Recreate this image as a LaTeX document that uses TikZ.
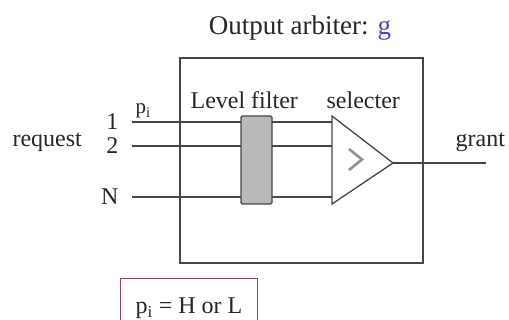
\documentclass[tikz,border=0pt]{standalone}
\usepackage{fontspec}
\setmainfont{Liberation Serif}
\usetikzlibrary{positioning}
\begin{document}
\begin{tikzpicture}[x=1pt,y=-1pt,line width=1.2pt,font=\fontsize{24}{28}\selectfont]
  \definecolor{wire}{RGB}{70,70,70}
  \definecolor{gblue}{RGB}{70,70,190}
  \definecolor{boxred}{RGB}{150,70,90}
  \tikzset{
    lbl/.style={inner sep=0pt, text=black!85},
    wireline/.style={draw=wire, line width=1.3pt}
  }
  \path[use as bounding box, clip] (0,0) rectangle (509,320);
  % titulo
  \node[lbl, anchor=base, font=\fontsize{27}{32}\selectfont] (title) at (300,35)
    {Output arbiter: \textcolor{gblue}{g}};
  % caixa do arbitro
  \node[draw=wire, line width=1.3pt, minimum width=243pt, minimum height=205pt, inner sep=0pt] (arb) at (301.5,160.5) {};
  % vertices do selecter
  \coordinate (selT) at (332,116);
  \coordinate (selB) at (332,204);
  \coordinate (selO) at (393,163);
  % entradas 1, 2 e N
  \foreach \n/\t/\y in {1/1/122, 2/2/146, N/N/197} {
    \coordinate (w\n) at (132,\y);
    \coordinate (s\n) at (332,\y);
    \node[lbl, left=13pt of w\n] (in\n) {\t};
    \draw[wireline] (w\n) -- (s\n);
  }
  \node[lbl, anchor=base west] (req) at (12,147) {request};
  \node[lbl, anchor=base west, font=\fontsize{21}{24}\selectfont] (pi) at (135,114) {p\textsubscript{i}};
  % level filter
  \node[draw=wire, line width=1.3pt, fill=gray!55, rounded corners=1.5pt, minimum width=31pt,
        minimum height=88pt, inner sep=0pt] (filt) at (256.5,160) {};
  \node[lbl, anchor=base west] (filtlbl) at (190,109) {Level filter};
  % selecter
  \draw[wireline, fill=white, line join=miter] (selT) -- (selO) -- (selB) -- cycle;
  \draw[gray!85, line width=2.6pt] (349,149) -- (362,159.5) -- (349,170);
  \node[lbl, anchor=base west] (sellbl) at (326,109) {selecter};
  % saida
  \coordinate (gout) at (486,163);
  \draw[wireline] (selO) -- (gout);
  \node[lbl, anchor=base west] (grant) at (455,147) {grant};
  % nota: p_i = H ou L
  \node[draw=boxred, line width=1pt, anchor=north west, inner ysep=0pt, inner xsep=10pt,
        text height=35pt, text depth=12pt, minimum width=137pt, align=left, text=black!85] (note)
    at (120,278) {p\textsubscript{i} = H or L};
\end{tikzpicture}
\end{document}
